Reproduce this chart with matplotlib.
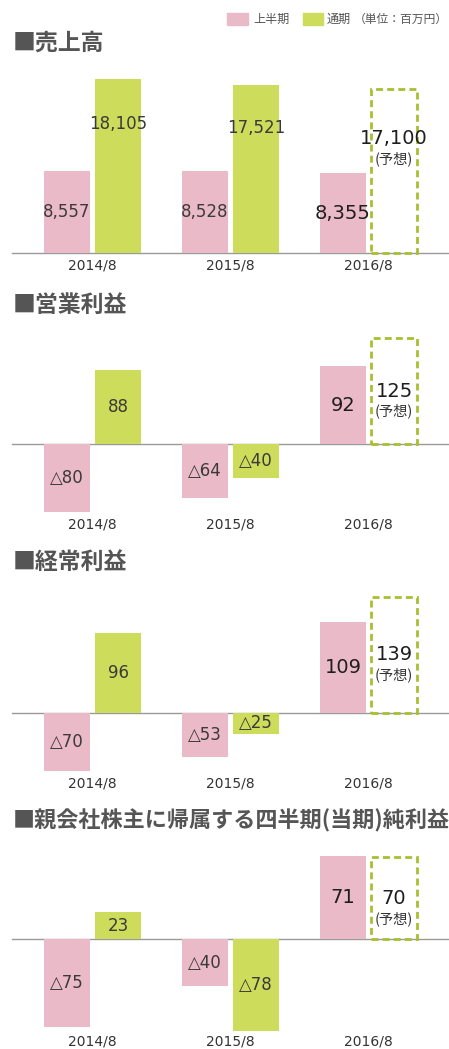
import matplotlib
matplotlib.use("Agg")
import matplotlib.pyplot as plt
from matplotlib.patches import Rectangle
import numpy as np

# values in million yen, half-year (上半期) and full-year (通期); last full-year is a forecast
periods = ["2014/8", "2015/8", "2016/8"]

sales_h1 = [8557, 8528, 8355]
sales_fy = [18105, 17521, 17100]

op_h1 = [-80, -64, 92]
op_fy = [88, -40, 125]

ord_h1 = [-70, -53, 109]
ord_fy = [96, -25, 139]

net_h1 = [-75, -40, 71]
net_fy = [23, -78, 70]

W, H = 449, 1049
PINK = "#ebbac8"
GREEN = "#cddc5a"
DASH = "#a6c030"
TITLE_C = "#555555"
JP = ["Noto Sans CJK JP", "DejaVu Sans"]
NUM = ["DejaVu Sans"]


def fy(px):
    return 1 - px / H


def fmt(v):
    s = f"{abs(v):,}"
    return "△" + s if v < 0 else s


def draw_panel(fig, title, title_y, h1, full, baseline, scale, top, label_y,
               fy_frac=0.5, fc_frac=0.5, title_size=16.5):
    bottom = label_y - 13
    ax = fig.add_axes([0, fy(bottom), 1, (bottom - top) / H])
    ax.set_xlim(-92.5 / 138, (W - 92.5) / 138)
    ax.set_ylim(-(bottom - baseline) / scale, (baseline - top) / scale)
    for s in ax.spines.values():
        s.set_visible(False)
    ax.set_yticks([])
    x = np.arange(len(periods))
    ax.set_xticks(x, periods)
    ax.tick_params(length=0, pad=4, labelsize=10, colors="#333333")
    ax.axhline(0, xmin=12 / W, xmax=1, color="#9a9a9a", lw=1.0, zorder=1,
               clip_on=False)

    off, bw = 0.185, 0.333
    ax.bar(x - off, h1, bw, color=PINK, clip_on=False, zorder=2)
    ax.bar(x[:-1] + off, full[:-1], bw, color=GREEN, clip_on=False, zorder=2)
    fc = ax.bar(x[-1] + off, full[-1], bw, fill=False, edgecolor=DASH, lw=2.0,
                clip_on=False, zorder=3)
    for p in fc:
        p.set_linestyle((0, (2.5, 1.5)))

    # labels
    for i, v in enumerate(h1):
        last = i == len(h1) - 1
        ax.text(x[i] - off, v / 2, fmt(v), ha="center", va="center",
                family=NUM, fontsize=14 if last else 12,
                color="#1e1e1e" if last else "#3a3a3a", zorder=4)
    for i, v in enumerate(full[:-1]):
        yy = v * fy_frac if v > 0 else v / 2
        ax.text(x[i] + off, yy, fmt(v), ha="center", va="center",
                family=NUM, fontsize=12, color="#3a3a3a", zorder=4)
    v = full[-1]
    ax.text(x[-1] + off, v * fc_frac, fmt(v), ha="center", va="center",
            family=NUM, fontsize=14, color="#1e1e1e", zorder=4)
    ax.annotate("(予想)", (x[-1] + off, v * fc_frac), xytext=(0, -14.5),
                textcoords="offset points", ha="center", va="center",
                family=JP, fontsize=10.3, color="#333333", zorder=4)

    fig.text(13 / W, fy(title_y), title, ha="left", va="center", family=JP,
             fontsize=title_size, weight="bold", color=TITLE_C)
    return ax


fig = plt.figure(figsize=(W / 100, H / 100), dpi=100)

# legend
fig.add_artist(Rectangle((227 / W, fy(25)), 21 / W, 12 / H, color=PINK,
                         transform=fig.transFigure))
fig.text(253 / W, fy(19), "上半期", ha="left", va="center", family=JP,
         fontsize=8.7, color="#555555")
fig.add_artist(Rectangle((303 / W, fy(25)), 20 / W, 12 / H, color=GREEN,
                         transform=fig.transFigure))
fig.text(327 / W, fy(19), "通期", ha="left", va="center", family=JP,
         fontsize=8.7, color="#555555")
fig.text(448 / W, fy(19), "（単位：百万円）", ha="right", va="center", family=JP,
         fontsize=8.5, color="#555555")

draw_panel(fig, "■売上高", 43, sales_h1, sales_fy, 253.3, 0.00962, 60, 266,
           fy_frac=0.745, fc_frac=0.70)
draw_panel(fig, "■営業利益", 305, op_h1, op_fy, 444, 0.846, 325, 525)
draw_panel(fig, "■経常利益", 562, ord_h1, ord_fy, 712.7, 0.834, 585, 784)
draw_panel(fig, "■親会社株主に帰属する四半期(当期)純利益", 821, net_h1, net_fy,
           939.3, 1.17, 845, 1042, title_size=15.9)

fig.savefig("out.png", dpi=100)
